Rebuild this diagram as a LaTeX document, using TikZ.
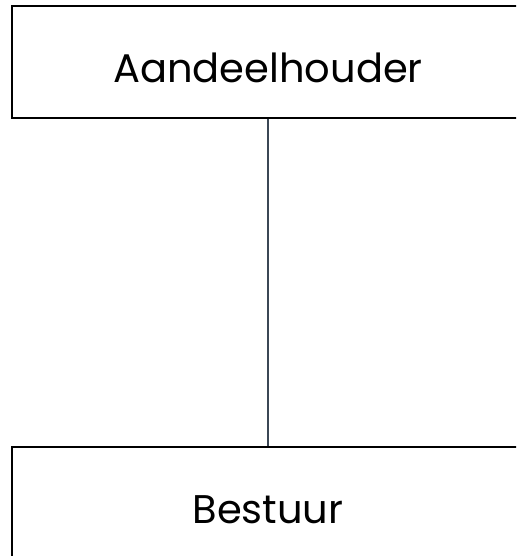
\documentclass[tikz,border=0pt]{standalone}
\usepackage{fontspec}
\setmainfont{Poppins}
\usetikzlibrary{positioning}
\tikzset{
  orgbox/.style = {draw, line width=1.5pt, fill=white, minimum width=512pt,
                   minimum height=112pt, inner sep=0pt, text height=42pt, text depth=0pt,
                   font=\fontsize{40}{46}\selectfont},
  link/.style   = {line width=1.6pt, draw={rgb,255:red,59;green,71;blue,85}},
}

\begin{document}
\begin{tikzpicture}[x=1pt,y=1pt]
  \useasboundingbox (0,0) rectangle (516,556);
  \clip (0,0) rectangle (516,556);
  \node[orgbox] (aand) at (268,494) {Aandeelhouder};
  \node[orgbox] (best) at (268,53) {Bestuur};
  \draw[link] (aand.south) -- (best.north);
\end{tikzpicture}
\end{document}
